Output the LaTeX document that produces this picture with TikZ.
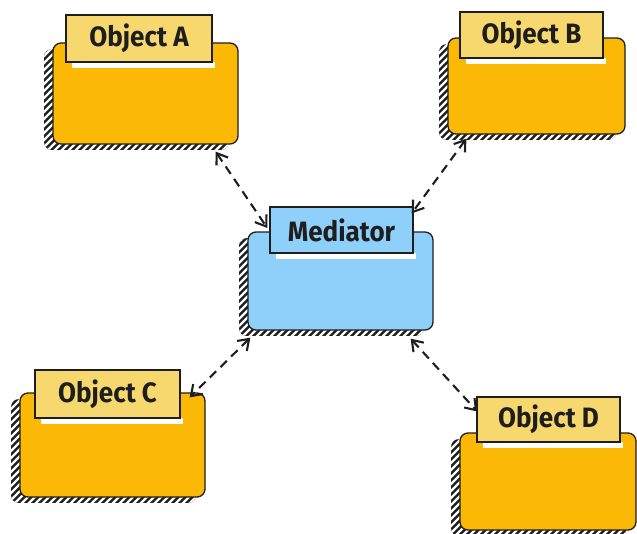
\documentclass[tikz,border=0pt]{standalone}
\usepackage{fontspec}
\setmainfont{Fira Sans}
\usetikzlibrary{arrows.meta,calc}

\definecolor{objfill}{HTML}{FBB804}
\definecolor{tabfill}{HTML}{F6D86E}
\definecolor{medfill}{HTML}{8ED0FA}
\definecolor{inkline}{HTML}{1E1E1E}

\tikzset{
  cardbox/.style={draw=inkline, line width=1.3pt, rounded corners=8pt, inner sep=0pt},
  tabbox/.style={draw=inkline, line width=1.4pt, inner sep=0pt, text=inkline,
    font=\fontsize{28}{31}\selectfont\bfseries},
  link/.style={draw=inkline, line width=2.1pt, dash pattern=on 9pt off 6pt,
    {Straight Barb[length=10pt,width=14pt]}-{Straight Barb[length=10pt,width=14pt]}},
}

% card body with a hatched drop shadow: name, x1, y1, x2, y2, fill
\newcommand\cardbody[6]{%
  \begin{scope}
    \clip[rounded corners=8pt] ({#2-9},{#3+6}) rectangle ({#4-9},{#5+6});
    \fill[inkline] ({#2-9},{#3+6}) rectangle ({#4-9},{#5+6});
    \foreach \k in {0,7,...,330}
      \draw[white, line width=2.4pt] ({#2-126+\k},{#5+8}) -- ++(120,-120);
  \end{scope}
  \node[cardbox, fill=#6, minimum width={(#4-#2)*1pt}, minimum height={(#5-#3)*1pt}]
    (#1) at ({(#2+#4)/2},{(#3+#5)/2}) {};
}

% title tab on a card: name, x1, y1, x2, y2, text, fill
\newcommand\cardtab[7]{%
  \fill[white] ({#2+6},#5) rectangle ({#4+3},{#5+6});
  \node[tabbox, fill=#7, minimum width={(#4-#2)*1pt}, minimum height={(#5-#3)*1pt}]
    (#1) at ({(#2+#4)/2},{(#3+#5)/2}) {\scalebox{0.93}[1]{#6}};
}

\begin{document}
\begin{tikzpicture}[x=1pt, y=-1pt]
  \useasboundingbox (0,0) rectangle (637,533);

  % Object A
  \cardbody{A}{53}{43}{238}{144}{objfill}
  \cardtab{AT}{66}{15}{212}{62}{Object A}{tabfill}
  % Object B
  \cardbody{B}{448}{38}{625}{134}{objfill}
  \cardtab{BT}{460}{12}{603}{58}{Object B}{tabfill}
  % Mediator
  \cardbody{M}{248}{232}{433}{330}{medfill}
  \cardtab{MT}{270}{207}{413}{253}{Mediator}{medfill}
  % Object C
  \cardbody{C}{20}{393}{205}{497}{objfill}
  \cardtab{CT}{35}{370}{180}{418}{Object C}{tabfill}
  % Object D
  \cardbody{D}{460}{433}{636}{530}{objfill}
  \cardtab{DT}{477}{397}{620}{442}{Object D}{tabfill}

  % two-way links to the mediator
  \draw[link] ($(A.south east)+(-23,7)$) -- ($(MT.west)+(-2,-2)$);
  \draw[link] ($(B.south west)+(19,4)$) -- ($(MT.north east)+(-2,7)$);
  \draw[link] ($(M.south west)+(3,7)$) -- ($(C.north east)+(-16,5)$);
  \draw[link] ($(M.south east)+(-23,8)$) -- ($(DT.west)+(1,-8)$);
\end{tikzpicture}
\end{document}
